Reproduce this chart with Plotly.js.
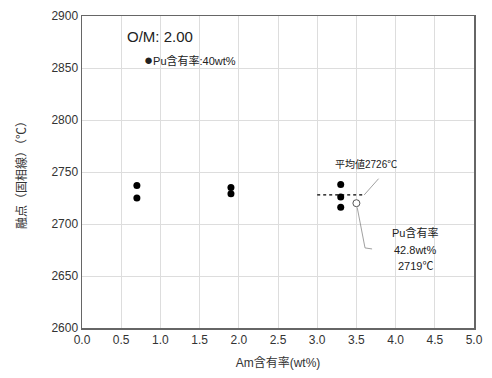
<!DOCTYPE html>
<html><head><meta charset="utf-8">
<script src="https://cdn.plot.ly/plotly-3.0.1.min.js"></script>
<style>body{margin:0;background:#fff}#c{width:492px;height:378px}</style>
</head><body><div id="c"></div>
<script>
const amX = [0.7, 0.7, 1.9, 1.9, 3.3, 3.3, 3.3];
const meltY = [2737, 2725, 2735, 2729, 2738, 2726, 2716];
const openX = [3.5];
const openY = [2720];
const avgX = [3.0, 3.6];
const avgY = [2728, 2728];
const puLabel = ['Pu含有率', '42.8wt%', '2719℃'];
const font = "'Liberation Sans', 'Noto Sans CJK JP', sans-serif";
const traces = [
  {x: amX, y: meltY, mode: 'markers', type: 'scatter', marker: {color: '#000', size: 7}},
  {x: openX, y: openY, mode: 'markers', type: 'scatter', marker: {color: '#fff', size: 7, line: {color: '#555', width: 1}}},
  {x: avgX, y: avgY, mode: 'lines', type: 'scatter', line: {color: '#000', width: 1.2, dash: 'dot'}}
];
const puY = [2692, 2675, 2660];
const annotations = [
  {x: 0.55, y: 2880, xref: 'x', yref: 'y', text: 'O/M: 2.00', showarrow: false, xanchor: 'left', font: {size: 15, color: '#222'}},
  {x: 0.76, y: 2858, xref: 'x', yref: 'y', text: '<span style="font-size:15px">●</span>Pu含有率:40wt%', showarrow: false, xanchor: 'left', font: {size: 11, color: '#222'}},
  {x: 3.6, y: 2728, xref: 'x', yref: 'y', ax: 3.8, ay: 2745, axref: 'x', ayref: 'y', text: '', showarrow: true, arrowhead: 0, arrowwidth: 0.8, arrowcolor: '#888'},
  {x: 3.62, y: 2758, xref: 'x', yref: 'y', text: '平均値2726℃', showarrow: false, font: {size: 10, color: '#222'}}
];
puLabel.forEach((t, i) => annotations.push({x: 4.25, y: puY[i], xref: 'x', yref: 'y', text: t, showarrow: false, font: {size: 11, color: '#222'}}));
const layout = {
  width: 492, height: 378, showlegend: false,
  margin: {l: 82, r: 18, t: 16, b: 50},
  paper_bgcolor: '#fff', plot_bgcolor: '#fff',
  font: {family: font, size: 12, color: '#333'},
  xaxis: {range: [0, 5], dtick: 0.5, tickformat: '.1f', showgrid: true, gridcolor: '#ddd', gridwidth: 1,
    showline: true, linecolor: '#666', linewidth: 1.5, mirror: true, zeroline: false, ticks: '',
    title: {text: 'Am含有率(wt%)', font: {size: 12, color: '#333'}, standoff: 12}},
  yaxis: {range: [2600, 2900], dtick: 50, showgrid: true, gridcolor: '#ddd', gridwidth: 1,
    showline: true, linecolor: '#666', linewidth: 1.5, mirror: true, zeroline: false, ticks: '',
    title: {text: '融点（固相線）（℃）', font: {size: 12, color: '#333'}, standoff: 22}},
  annotations: annotations,
  shapes: [
    {type: 'path', xref: 'x', yref: 'y', path: 'M 3.51 2716 L 3.61 2677 L 3.70 2676', line: {color: '#888', width: 0.8}}
  ]
};
Plotly.newPlot('c', traces, layout, {displayModeBar: false, staticPlot: true});
</script></body></html>
